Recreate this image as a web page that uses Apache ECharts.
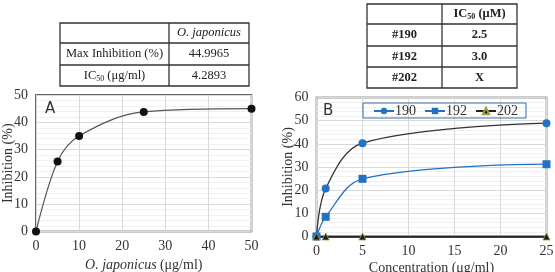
<!DOCTYPE html>
<html>
<head>
<meta charset="utf-8">
<script src="https://cdn.jsdelivr.net/npm/echarts/dist/echarts.min.js"></script>
<style>
  html, body { margin: 0; padding: 0; background: #fff; }
  #main { width: 555px; height: 272px; }
</style>
</head>
<body>
<div id="main"></div>
<script>
// panel A data
const concA = [0, 5, 10, 25, 50]
const inhibA = [0, 25.6, 35.0, 43.8, 45.0]
// panel B data
const concB = [0, 1, 5, 25]
const inhib190 = [0, 20.7, 40.3, 48.9]
const inhib192 = [0, 8.5, 24.9, 31.2]
const inhib202 = [0, 0, 0, 0]
const seriesNamesB = ['190', '192', '202']
// tables
const tableARows = [
  ['', 'O. japonicus'],
  ['Max Inhibition (%)', '44.9965'],
  ['IC50 (μg/ml)', '4.2893']
]
const tableBRows = [
  ['', 'IC50 (μM)'],
  ['#190', '2.5'],
  ['#192', '3.0'],
  ['#202', 'X']
]

const serif = 'Liberation Serif'
const blue = '#2372c2'

function pairs (xs, ys) {
  return xs.map((x, i) => [x, ys[i]])
}

// turn "IC50" into rich text with a subscript
function cellText (t, bold) {
  let cls = bold ? 'b' : 'n'
  if (t.indexOf('IC50') === 0) {
    return '{' + cls + '|IC}{' + cls + 's|50}{' + cls + '|' + t.slice(4) + '}'
  }
  if (t === 'O. japonicus') return '{i|' + t + '}'
  return '{' + cls + '|' + t + '}'
}

const rich = {
  n: { fontFamily: serif, fontSize: 12.5, fill: '#222' },
  ns: { fontFamily: serif, fontSize: 8, fill: '#222', padding: [6, 0, 0, 0] },
  b: { fontFamily: serif, fontSize: 12.5, fontWeight: 'bold', fill: '#222' },
  bs: { fontFamily: serif, fontSize: 8, fontWeight: 'bold', fill: '#222', padding: [6, 0, 0, 0] },
  i: { fontFamily: serif, fontSize: 12.5, fontStyle: 'italic', fill: '#222' }
}

function buildTable (rows, x0, xMid, x1, rowY, bold) {
  let els = []
  els.push({
    type: 'rect',
    shape: { x: x0, y: rowY[0], width: x1 - x0, height: rowY[rowY.length - 1] - rowY[0] },
    style: { fill: 'none', stroke: '#333', lineWidth: 1.3 }
  })
  els.push({
    type: 'line',
    shape: { x1: xMid, y1: rowY[0], x2: xMid, y2: rowY[rowY.length - 1] },
    style: { stroke: '#333', lineWidth: 1.3 }
  })
  for (let r = 1; r < rowY.length - 1; r++) {
    els.push({
      type: 'line',
      shape: { x1: x0, y1: rowY[r], x2: x1, y2: rowY[r] },
      style: { stroke: '#333', lineWidth: 1.3 }
    })
  }
  for (let r = 0; r < rows.length; r++) {
    let cy = (rowY[r] + rowY[r + 1]) / 2
    let cols = [(x0 + xMid) / 2, (xMid + x1) / 2]
    for (let c = 0; c < 2; c++) {
      if (!rows[r][c]) continue
      els.push({
        type: 'text',
        x: cols[c],
        y: cy,
        style: {
          text: cellText(rows[r][c], bold),
          rich: rich,
          align: 'center',
          verticalAlign: 'middle'
        }
      })
    }
  }
  return els
}

let chart = echarts.init(document.getElementById('main'))

let axisLabel = { fontFamily: serif, fontSize: 14, color: '#333', margin: 8 }
let splitLine = { show: true, lineStyle: { color: '#d9d9d9', width: 1 } }
let minorSplit = { show: true, lineStyle: { color: '#f0f0f0', width: 1 } }

let option = {
  animation: false,
  backgroundColor: '#fff',
  grid: [
    { left: 36, top: 95, width: 215.5, height: 136.5, show: true, borderColor: '#333', borderWidth: 1.5, backgroundColor: 'transparent', outerBoundsMode: 'none', containLabel: false },
    { left: 316.5, top: 97.5, width: 230, height: 139, show: true, borderColor: '#333', borderWidth: 1.5, backgroundColor: 'transparent', outerBoundsMode: 'none', containLabel: false }
  ],
  xAxis: [
    {
      gridIndex: 0, type: 'value', min: 0, max: 50, interval: 10,
      axisLine: { show: false }, axisTick: { show: false },
      axisLabel: axisLabel, splitLine: splitLine,
      name: '{i|O. japonicus} {n|(μg/ml)}',
      nameLocation: 'middle', nameGap: 27, nameMoveOverlap: false,
      nameTextStyle: {
        rich: {
          i: { fontFamily: serif, fontSize: 14, fontStyle: 'italic', color: '#333' },
          n: { fontFamily: serif, fontSize: 14, color: '#333' }
        }
      }
    },
    {
      gridIndex: 1, type: 'value', min: 0, max: 25, interval: 5,
      axisLine: { show: true, lineStyle: { color: '#444', width: 2 } }, axisTick: { show: false },
      axisLabel: axisLabel, splitLine: splitLine,
      name: 'Concentration (μg/ml)', nameLocation: 'middle', nameGap: 25, nameMoveOverlap: false,
      nameTextStyle: { fontFamily: serif, fontSize: 14, color: '#333' }
    }
  ],
  yAxis: [
    {
      gridIndex: 0, type: 'value', min: 0, max: 50, interval: 10,
      axisLine: { show: false }, axisTick: { show: false },
      axisLabel: axisLabel, splitLine: splitLine,
      minorTick: { show: false, splitNumber: 5 }, minorSplitLine: minorSplit,
      name: 'Inhibition (%)', nameLocation: 'middle', nameGap: 21, nameMoveOverlap: false,
      nameTextStyle: { fontFamily: serif, fontSize: 14, color: '#333' }
    },
    {
      gridIndex: 1, type: 'value', min: 0, max: 60, interval: 10,
      axisLine: { show: false }, axisTick: { show: false },
      axisLabel: axisLabel, splitLine: splitLine,
      minorTick: { show: false, splitNumber: 5 }, minorSplitLine: minorSplit,
      name: 'Inhibition (%)', nameLocation: 'middle', nameGap: 21.5, nameMoveOverlap: false,
      nameTextStyle: { fontFamily: serif, fontSize: 14, color: '#333' }
    }
  ],
  legend: {
    left: 363, top: 103,
    borderColor: '#2e6db0', borderWidth: 1,
    padding: [1, 8, 0, 10],
    itemGap: 8, itemWidth: 20, itemHeight: 8,
    textStyle: { fontFamily: serif, fontSize: 14, color: '#333', padding: [0, 0, 0, -4] },
    data: [
      { name: seriesNamesB[0], lineStyle: { color: blue } },
      { name: seriesNamesB[1], lineStyle: { color: blue } },
      { name: seriesNamesB[2], lineStyle: { color: '#222' } }
    ]
  },
  series: [
    {
      type: 'line', xAxisIndex: 0, yAxisIndex: 0,
      data: pairs(concA, inhibA),
      smooth: 0.35,
      symbol: 'circle', symbolSize: 8,
      lineStyle: { color: '#555', width: 1.2 },
      itemStyle: { color: '#111' }
    },
    {
      name: seriesNamesB[0], type: 'line', xAxisIndex: 1, yAxisIndex: 1,
      data: pairs(concB, inhib190),
      smooth: 0.35,
      symbol: 'circle', symbolSize: 8,
      lineStyle: { color: '#333', width: 1.3 },
      itemStyle: { color: blue }
    },
    {
      name: seriesNamesB[1], type: 'line', xAxisIndex: 1, yAxisIndex: 1,
      data: pairs(concB, inhib192),
      smooth: 0.35,
      symbol: 'rect', symbolSize: 8,
      lineStyle: { color: blue, width: 1.3 },
      itemStyle: { color: blue }
    },
    {
      name: seriesNamesB[2], type: 'line', xAxisIndex: 1, yAxisIndex: 1,
      data: pairs(concB, inhib202),
      symbol: 'triangle', symbolSize: 7,
      lineStyle: { color: '#222', width: 1.3 },
      itemStyle: { color: '#1a1a1a', borderColor: '#a0a040', borderWidth: 0.8 }
    }
  ],
  graphic: [
    ...buildTable(tableARows, 60, 169, 249, [23, 43, 65, 86], false),
    ...buildTable(tableBRows, 367, 442, 517, [4, 24, 46, 67, 88], true),
    { type: 'text', x: 45, y: 102, z: 100, style: { text: 'A', fontSize: 15, fontFamily: 'DejaVu Sans', fill: '#333' } },
    { type: 'text', x: 323, y: 104, z: 100, style: { text: 'B', fontSize: 15, fontFamily: 'DejaVu Sans', fill: '#333' } }
  ]
}

chart.setOption(option)
</script>
</body>
</html>
